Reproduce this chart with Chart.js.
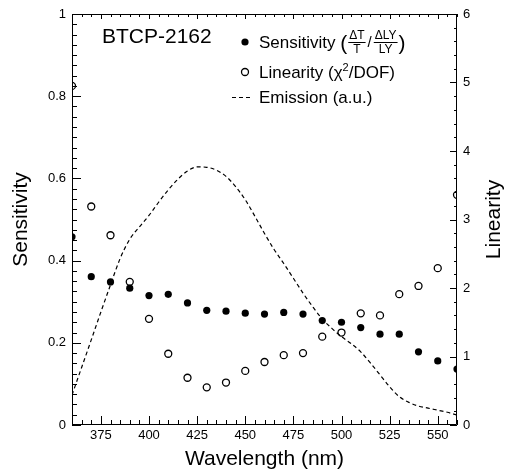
<!DOCTYPE html>
<html>
<head>
<meta charset="utf-8">
<script src="https://cdn.jsdelivr.net/npm/chart.js@4.4.1/dist/chart.umd.min.js"></script>
<style>
  html, body { margin: 0; padding: 0; background: #fff; }
  canvas { display: block; }
</style>
</head>
<body>
<canvas id="chart" width="505" height="475"></canvas>
<script>
// measured points, every 10 nm
const wavelengths = [360, 370, 380, 390, 400, 410, 420, 430, 440, 450, 460, 470, 480, 490, 500, 510, 520, 530, 540, 550, 560];
const sensitivity = [0.458, 0.361, 0.348, 0.333, 0.315, 0.318, 0.297, 0.279, 0.277, 0.272, 0.270, 0.274, 0.270, 0.254, 0.250, 0.237, 0.221, 0.221, 0.178, 0.156, 0.136];
const linearity = [4.95, 3.19, 2.77, 2.09, 1.55, 1.04, 0.69, 0.55, 0.62, 0.79, 0.92, 1.02, 1.05, 1.29, 1.35, 1.63, 1.60, 1.91, 2.03, 2.29, 3.36];

// emission spectrum (a.u.), every 5 nm
const emissionWl = [360, 365, 370, 375, 380, 385, 390, 395, 400, 405, 410, 415, 420, 425, 430, 435, 440, 445, 450, 455,
  460, 465, 470, 475, 480, 485, 490, 495, 500, 505, 510, 515, 520, 525, 530, 535, 540, 545, 550, 555, 560];
const emission = [0.073, 0.140, 0.207, 0.275, 0.341, 0.405, 0.452, 0.482, 0.510, 0.542, 0.572, 0.598, 0.618, 0.628, 0.627, 0.620, 0.605, 0.580, 0.548, 0.508,
  0.466, 0.427, 0.393, 0.357, 0.321, 0.288, 0.258, 0.235, 0.215, 0.198, 0.178, 0.151, 0.122, 0.093, 0.069, 0.055, 0.046, 0.041, 0.036, 0.031, 0.024];

const xTicks = [375, 400, 425, 450, 475, 500, 525, 550];
const leftTicks = [0, 0.2, 0.4, 0.6, 0.8, 1];
const rightTicks = [0, 1, 2, 3, 4, 5, 6];

Chart.defaults.font.family = "'Liberation Sans', Arial, sans-serif";
Chart.defaults.color = "#000";

function toPoints(xs, ys) {
    return xs.map((x, i) => ({ x: x, y: ys[i] }));
}

// ROOT-like frame with inward ticks on every side
const frameTicks = {
    id: "frameTicks",
    afterDatasetsDraw(chart) {
        const { ctx, chartArea: a, scales } = chart;
        ctx.save();
        ctx.strokeStyle = "#000";
        ctx.lineWidth = 1;
        ctx.beginPath();
        ctx.rect(a.left + 0.5, a.top + 0.5, a.right - a.left - 1, a.bottom - a.top - 1);
        for (let v = 360; v <= 560; v += 5) {
            const x = Math.round(scales.x.getPixelForValue(v)) + 0.5;
            const major = v % 25 === 0;
            ctx.moveTo(x, a.bottom); ctx.lineTo(x, a.bottom - (major ? 9 : 5));
            ctx.moveTo(x, a.top); ctx.lineTo(x, a.top + (major ? 5 : 3));
        }
        for (let i = 0; i <= 40; i++) {
            const y = Math.round(scales.y.getPixelForValue(i * 0.025)) + 0.5;
            const major = i % 8 === 0;
            ctx.moveTo(a.left, y); ctx.lineTo(a.left + (major ? 9 : 5), y);
        }
        for (let i = 0; i <= 30; i++) {
            const y = Math.round(scales.y2.getPixelForValue(i * 0.2)) + 0.5;
            const major = i % 5 === 0;
            ctx.moveTo(a.right, y); ctx.lineTo(a.right - (major ? 7 : 3), y);
        }
        ctx.stroke();
        ctx.restore();
    },
    afterDraw(chart) {
        const { ctx, chartArea: a } = chart;
        const font = "'Liberation Sans', Arial, sans-serif";
        ctx.save();
        ctx.fillStyle = "#000";
        ctx.strokeStyle = "#000";

        // right axis title, reads bottom to top
        ctx.save();
        ctx.translate(494, (a.top + a.bottom) / 2);
        ctx.rotate(-Math.PI / 2);
        ctx.font = "21px " + font;
        ctx.textAlign = "center";
        ctx.textBaseline = "middle";
        ctx.fillText("Linearity", 0, 0);
        ctx.restore();

        ctx.textBaseline = "alphabetic";
        ctx.font = "21px " + font;
        ctx.fillText("BTCP-2162", 102, 43);

        const tx = 259;
        // sensitivity entry
        ctx.beginPath();
        ctx.arc(245, 42, 3.6, 0, Math.PI * 2);
        ctx.fill();
        ctx.font = "17px " + font;
        ctx.fillText("Sensitivity ", tx, 48);
        let x = tx + ctx.measureText("Sensitivity ").width;
        ctx.font = "21px " + font;
        ctx.fillText("(", x, 50);
        x += ctx.measureText("(").width + 1;
        function frac(num, den, x0) {
            ctx.font = "12px " + font;
            const w = Math.max(ctx.measureText(num).width, ctx.measureText(den).width) + 2;
            ctx.textAlign = "center";
            ctx.fillText(num, x0 + w / 2, 39);
            ctx.fillText(den, x0 + w / 2, 53);
            ctx.textAlign = "left";
            ctx.fillRect(x0, 42, w, 1);
            return x0 + w;
        }
        x = frac("\u0394T", "T", x) + 2;
        ctx.font = "15px " + font;
        ctx.fillText("/", x, 47);
        x += ctx.measureText("/").width + 2;
        x = frac("\u0394LY", "LY", x) + 1;
        ctx.font = "21px " + font;
        ctx.fillText(")", x, 50);

        // linearity entry
        ctx.beginPath();
        ctx.lineWidth = 1.3;
        ctx.arc(245, 72, 3.5, 0, Math.PI * 2);
        ctx.stroke();
        ctx.font = "17px " + font;
        ctx.fillText("Linearity (\u03C7", tx, 78);
        x = tx + ctx.measureText("Linearity (\u03C7").width;
        ctx.font = "11px " + font;
        ctx.fillText("2", x, 71);
        x += ctx.measureText("2").width;
        ctx.font = "17px " + font;
        ctx.fillText("/DOF)", x, 78);

        // emission entry
        ctx.beginPath();
        ctx.lineWidth = 1.2;
        ctx.setLineDash([4, 3]);
        ctx.moveTo(232, 97.5);
        ctx.lineTo(253, 97.5);
        ctx.stroke();
        ctx.setLineDash([]);
        ctx.fillText("Emission (a.u.)", tx, 103);
        ctx.restore();
    }
};

const ctx = document.getElementById("chart").getContext("2d");

new Chart(ctx, {
    type: "line",
    data: {
        datasets: [
            {
                label: "Emission (a.u.)",
                data: toPoints(emissionWl, emission),
                yAxisID: "y",
                borderColor: "#000",
                borderWidth: 1.2,
                borderDash: [4, 3],
                pointRadius: 0,
                cubicInterpolationMode: "monotone",
                fill: false,
                clip: 0
            },
            {
                label: "Sensitivity",
                data: toPoints(wavelengths, sensitivity),
                yAxisID: "y",
                showLine: false,
                pointRadius: 3.6,
                pointBackgroundColor: "#000",
                pointBorderWidth: 0,
                clip: 0
            },
            {
                label: "Linearity",
                data: toPoints(wavelengths, linearity),
                yAxisID: "y2",
                showLine: false,
                pointRadius: 3.5,
                pointBackgroundColor: "rgba(0,0,0,0)",
                pointBorderColor: "#000",
                pointBorderWidth: 1.3,
                clip: 0
            }
        ]
    },
    options: {
        responsive: false,
        animation: false,
        events: [],
        layout: { padding: { top: 14, left: 0, right: 0, bottom: 0 } },
        plugins: {
            legend: { display: false },
            tooltip: { enabled: false }
        },
        scales: {
            x: {
                type: "linear",
                position: "bottom",
                min: 360,
                max: 560,
                grid: { display: false, drawTicks: false },
                border: { display: false },
                afterBuildTicks: s => { s.ticks = xTicks.map(v => ({ value: v })); },
                afterFit: s => { s.height = 50; s.paddingLeft = 0; s.paddingRight = 0; },
                ticks: { font: { size: 13 }, padding: 3, maxRotation: 0, autoSkip: false, callback: v => String(v) },
                title: { display: true, text: "Wavelength (nm)", font: { size: 21 }, padding: { top: 0, bottom: 3 } }
            },
            y: {
                type: "linear",
                position: "left",
                min: 0,
                max: 1,
                grid: { display: false, drawTicks: false },
                border: { display: false },
                afterBuildTicks: s => { s.ticks = leftTicks.map(v => ({ value: v })); },
                afterFit: s => { s.width = 72; s.paddingTop = 0; s.paddingBottom = 0; },
                ticks: { font: { size: 13 }, padding: 6, callback: v => String(+v.toFixed(2)) },
                title: { display: true, text: "Sensitivity", font: { size: 21 }, padding: { top: 9, bottom: 0 } }
            },
            y2: {
                type: "linear",
                position: "right",
                min: 0,
                max: 6,
                grid: { display: false, drawTicks: false },
                border: { display: false },
                afterBuildTicks: s => { s.ticks = rightTicks.map(v => ({ value: v })); },
                afterFit: s => { s.width = 48; s.paddingTop = 0; s.paddingBottom = 0; },
                ticks: { font: { size: 13 }, padding: 6, callback: v => String(v) }
            }
        }
    },
    plugins: [frameTicks]
});
</script>
</body>
</html>
